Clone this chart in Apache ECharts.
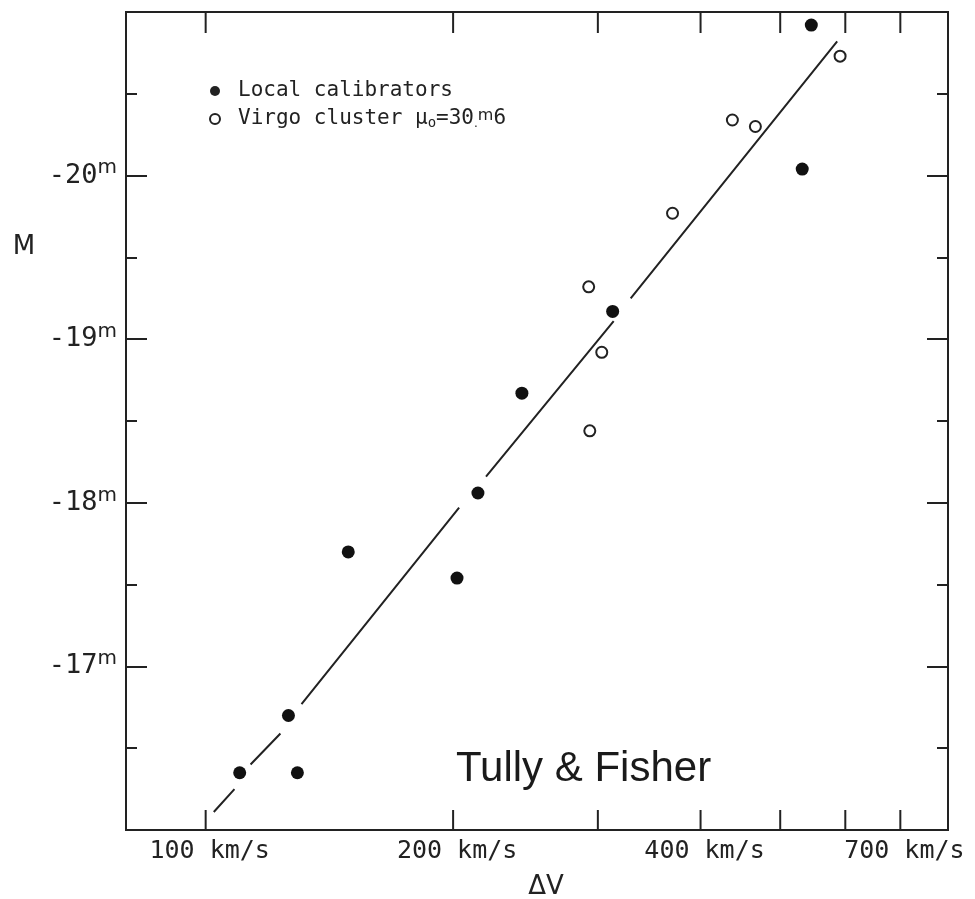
<!DOCTYPE html>
<html>
<head>
    <meta charset="UTF-8">
    <script src="https://cdn.jsdelivr.net/npm/echarts@6/dist/echarts.min.js"></script>
    <style>
        html, body { margin: 0; background: #fff; }
        #main { width: 975px; height: 899px; }
    </style>
</head>
<body>
<div id="main"></div>
<script>
    // Local calibrators (filled dots): rotation width dV in km/s, absolute mag M
    var localV = [110.0, 126.1, 129.3, 149.1, 202.2, 214.4, 242.5, 312.7, 531.8, 545.5];
    var localM = [-16.35, -16.70, -16.35, -17.70, -17.54, -18.06, -18.67, -19.17, -20.04, -20.92];

    // Virgo cluster galaxies (open circles)
    var virgoV = [292.4, 303.3, 293.3, 369.8, 437.3, 466.4, 591.3];
    var virgoM = [-19.32, -18.92, -18.44, -19.77, -20.34, -20.30, -20.73];

    // the fitted line, drawn in pieces (gaps left around the dots)
    var fitV = [[102.3, 108.4], [113.4, 123.3], [130.8, 203.4], [219.3, 313.6], [328.9, 586.5]];
    var fitM = [[-16.11, -16.25], [-16.40, -16.59], [-16.77, -17.97], [-18.16, -19.11], [-19.25, -20.82]];

    // axis ticks
    var xTickValues = [100, 200, 300, 400, 500, 600, 700];
    var xLabelValues = [100, 200, 400, 700];
    var xMin = 80, xMax = 800;
    var yMin = -21, yMax = -16;

    var ink = '#222';
    var mono = '"DejaVu Sans Mono", monospace';
    var sans = '"DejaVu Sans", sans-serif';

    function pairs(xs, ys) {
        return xs.map(function (x, i) { return [x, ys[i]]; });
    }

    var fitData = [];
    fitV.forEach(function (seg, i) {
        if (i > 0) fitData.push([null, null]);
        fitData = fitData.concat(pairs(seg, fitM[i]));
    });

    function tickItem(params, api) {
        var v = api.value(0);
        var b = api.coord([v, yMax]);
        var t = api.coord([v, yMin]);
        return {
            type: 'group',
            children: [
                {type: 'line', shape: {x1: b[0], y1: b[1], x2: b[0], y2: b[1] - 20}, style: {stroke: ink, lineWidth: 2}},
                {type: 'line', shape: {x1: t[0], y1: t[1], x2: t[0], y2: t[1] + 21}, style: {stroke: ink, lineWidth: 2}}
            ]
        };
    }

    function labelItem(params, api) {
        var v = api.value(0);
        var b = api.coord([v, yMax]);
        return {
            type: 'text',
            x: b[0] + 4,
            y: b[1] + 9,
            style: {
                text: v + ' km/s', fontFamily: mono, fontSize: 25, fill: ink,
                align: 'center', verticalAlign: 'top'
            }
        };
    }

    var yAxisCommon = {
        type: 'value',
        min: yMin,
        max: yMax,
        interval: 1,
        inverse: true,
        axisLine: {show: false},
        splitLine: {show: false},
        axisTick: {show: true, inside: true, length: 21, lineStyle: {color: ink, width: 2}},
        minorTick: {show: true, splitNumber: 2, length: 11, lineStyle: {color: ink, width: 2}}
    };

    var myChart = echarts.init(document.getElementById('main'));
    var option = {
        animation: false,
        backgroundColor: '#fff',
        grid: {
            left: 126, right: 27, top: 12, bottom: 69,
            outerBoundsMode: 'none',
            containLabel: false,
            show: true, borderColor: ink, borderWidth: 2, backgroundColor: 'transparent'
        },
        xAxis: {
            type: 'log',
            logBase: 10,
            min: xMin,
            max: xMax,
            axisLine: {show: false},
            axisTick: {show: false},
            axisLabel: {show: false},
            splitLine: {show: false},
            name: 'ΔV',
            nameLocation: 'middle',
            nameGap: 44,
            nameTextStyle: {fontFamily: sans, fontSize: 26, color: ink, padding: [0, 0, 0, 18]}
        },
        yAxis: [
            Object.assign({}, yAxisCommon, {
                position: 'left',
                axisLabel: {
                    margin: 9,
                    color: ink,
                    padding: [0, 0, 4, 0],
                    formatter: function (v) {
                        if (v <= yMin || v >= yMax) return '';
                        return '{n|' + v + '}{m|m}';
                    },
                    rich: {
                        n: {fontFamily: mono, fontSize: 27, color: ink, padding: [4, 0, 0, 0]},
                        m: {fontFamily: sans, fontSize: 20, color: ink, lineHeight: 1, verticalAlign: 'top'}
                    }
                }
            }),
            Object.assign({}, yAxisCommon, {
                position: 'right',
                axisLabel: {show: false}
            })
        ],
        legend: {
            orient: 'vertical',
            left: 204,
            top: 75,
            itemWidth: 36,
            itemHeight: 10,
            itemGap: 6,
            selectedMode: false,
            data: [
                {name: 'Local calibrators', icon: 'circle', itemStyle: {color: ink, borderWidth: 0}},
                {name: 'Virgo cluster', icon: 'circle', itemStyle: {color: '#fff', borderColor: ink, borderWidth: 2}}
            ],
            formatter: function (name) {
                if (name === 'Virgo cluster') {
                    return '{t|Virgo cluster μ}{sub|o}{t|=30}{dot|.}{sup|m}{t|6}';
                }
                return '{t|' + name + '}';
            },
            textStyle: {
                color: ink,
                fontFamily: mono,
                fontSize: 21,
                lineHeight: 22,
                rich: {
                    t: {fontFamily: mono, fontSize: 21, color: ink, lineHeight: 22},
                    sub: {fontFamily: mono, fontSize: 14, color: ink, lineHeight: 8, verticalAlign: 'bottom'},
                    sup: {fontFamily: sans, fontSize: 16, color: ink, lineHeight: 4, verticalAlign: 'top'},
                    dot: {fontFamily: sans, fontSize: 12, color: ink, lineHeight: 12, verticalAlign: 'bottom'}
                }
            }
        },
        graphic: [
            {type: 'text', x: 24, y: 247, style: {text: 'M', fontFamily: sans, fontSize: 26, fill: ink, align: 'center', verticalAlign: 'middle'}},
            {type: 'text', x: 456, y: 769, style: {text: 'Tully & Fisher', fontFamily: '"Liberation Sans", Arial, sans-serif', fontSize: 42, fill: '#1a1a1a', align: 'left', verticalAlign: 'middle'}}
        ],
        series: [
            {
                name: 'fit',
                type: 'line',
                data: fitData,
                connectNulls: false,
                symbol: 'none',
                silent: true,
                lineStyle: {color: ink, width: 2}
            },
            {
                name: 'Local calibrators',
                type: 'scatter',
                data: pairs(localV, localM),
                symbol: 'circle',
                symbolSize: 13,
                itemStyle: {color: '#111', opacity: 1}
            },
            {
                name: 'Virgo cluster',
                type: 'scatter',
                data: pairs(virgoV, virgoM),
                symbol: 'circle',
                symbolSize: 11,
                itemStyle: {color: '#fff', borderColor: ink, borderWidth: 2, opacity: 1}
            },
            {
                name: 'xticks',
                type: 'custom',
                silent: true,
                data: xTickValues.map(function (v) { return [v]; }),
                encode: {x: 0},
                renderItem: tickItem
            },
            {
                name: 'xlabels',
                type: 'custom',
                silent: true,
                data: xLabelValues.map(function (v) { return [v]; }),
                encode: {x: 0},
                renderItem: labelItem
            }
        ]
    };
    myChart.setOption(option);
</script>
</body>
</html>
